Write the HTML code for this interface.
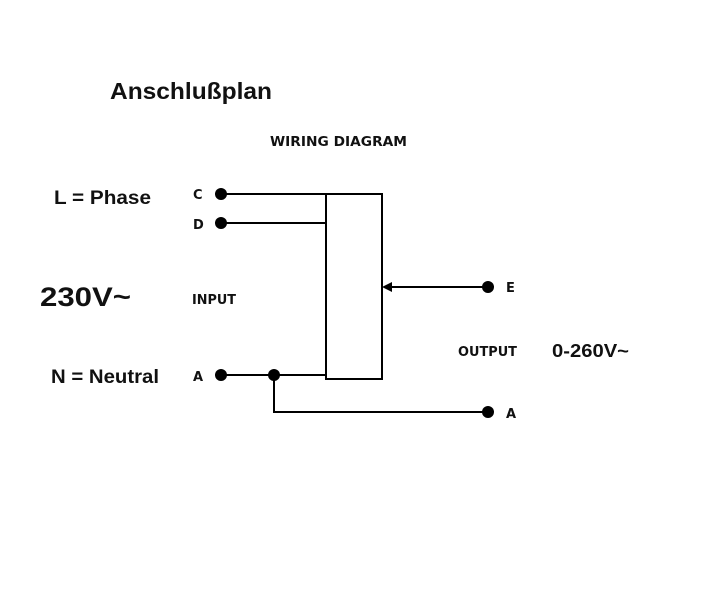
<!DOCTYPE html>
<html><head><style>
body{margin:0;background:#fff;}
svg{display:block}
.b{font-family:"Liberation Sans",sans-serif;font-weight:bold;fill:#111}
.s{font-family:"DejaVu Sans","Liberation Sans",sans-serif;font-weight:bold;fill:#111;font-size:13px}
</style></head><body>
<svg width="709" height="591" viewBox="0 0 709 591">
<text class="b" x="110" y="99" font-size="23" textLength="162" lengthAdjust="spacingAndGlyphs">Anschlußplan</text>
<text class="s" x="270" y="146" textLength="137" lengthAdjust="spacingAndGlyphs">WIRING DIAGRAM</text>
<text class="b" x="54" y="204" font-size="19" textLength="97" lengthAdjust="spacingAndGlyphs">L = Phase</text>
<text class="b" x="40" y="306" font-size="27" textLength="91" lengthAdjust="spacingAndGlyphs">230V~</text>
<text class="b" x="51" y="383" font-size="19" textLength="108" lengthAdjust="spacingAndGlyphs">N = Neutral</text>
<text class="s" x="193" y="199" font-size="12">C</text>
<text class="s" x="193" y="229" font-size="12">D</text>
<text class="s" x="192" y="304" textLength="44" lengthAdjust="spacingAndGlyphs">INPUT</text>
<text class="s" x="193" y="381" font-size="12">A</text>
<text class="s" x="506" y="292" font-size="12">E</text>
<text class="s" x="458" y="356" textLength="59" lengthAdjust="spacingAndGlyphs">OUTPUT</text>
<text class="b" x="552" y="357" font-size="18" textLength="77" lengthAdjust="spacingAndGlyphs">0-260V~</text>
<text class="s" x="506" y="418" font-size="12">A</text>
<g stroke="#000" stroke-width="2" fill="none">
<rect x="326" y="194" width="56" height="185"/>
<line x1="221" y1="194" x2="326" y2="194"/>
<line x1="221" y1="223" x2="326" y2="223"/>
<line x1="221" y1="375" x2="326" y2="375"/>
<polyline points="274,375 274,412 488,412"/>
<line x1="390" y1="287" x2="488" y2="287"/>
</g>
<polygon points="382,287 392,282 392,292" fill="#000"/>
<g fill="#000">
<circle cx="221" cy="194" r="6"/>
<circle cx="221" cy="223" r="6"/>
<circle cx="221" cy="375" r="6"/>
<circle cx="274" cy="375" r="6"/>
<circle cx="488" cy="287" r="6"/>
<circle cx="488" cy="412" r="6"/>
</g>
</svg>
</body></html>
